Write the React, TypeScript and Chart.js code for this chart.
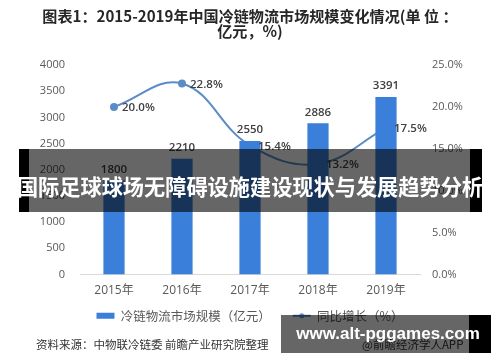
import React, { useEffect, useRef } from "react";
import { Chart, registerables } from "chart.js";

Chart.register(...registerables);

const titleLines = ["图表1：2015-2019年中国冷链物流市场规模变化情况(单 位 ：", "亿元，%)"];
const categories = ["2015年", "2016年", "2017年", "2018年", "2019年"];
const marketSize = [1800, 2210, 2550, 2886, 3391];
const growthRate = [20.0, 22.8, 15.4, 13.2, 17.5];
const seriesNames = ["冷链物流市场规模（亿元）", "同比增长（%）"];
const leftAxis = { min: 0, max: 4000, step: 500 };
const rightAxis = { min: 0, max: 25, step: 5 };
const sourceText = "资料来源：中物联冷链委 前瞻产业研究院整理";
const sourceRight = "@前瞻经济学人APP";
const bannerText = "国际足球球场无障碍设施建设现状与发展趋势分析";
const siteText = "www.alt-pggames.com";

const BAR_COLOR = "#3a7fd9";
const LINE_COLOR = "#5b8cc8";
const FONT = "'Open Sans', 'Noto Sans CJK SC', sans-serif";
const CJK = "'Noto Sans CJK SC', sans-serif";

const labelPlugin = {
  id: "valueLabels",
  afterDatasetsDraw(chart: any) {
    const ctx = chart.ctx;
    ctx.save();
    ctx.fillStyle = "#404040";
    ctx.font = `600 11.5px ${FONT}`;
    ctx.textBaseline = "middle";
    const barMeta = chart.getDatasetMeta(0);
    ctx.textAlign = "center";
    barMeta.data.forEach((el: any, i: number) => {
      ctx.fillText(String(marketSize[i]), el.x, el.y - 11);
    });
    const lineMeta = chart.getDatasetMeta(1);
    ctx.textAlign = "left";
    lineMeta.data.forEach((el: any, i: number) => {
      ctx.fillText(growthRate[i].toFixed(1) + "%", el.x + 8, el.y + 1);
    });
    ctx.restore();
  },
  afterDraw(chart: any) {
    const lg = chart.legend;
    if (!lg || !lg.legendHitBoxes || lg.legendHitBoxes.length < 2) return;
    const hb = lg.legendHitBoxes[1];
    const ctx = chart.ctx;
    ctx.save();
    ctx.fillStyle = LINE_COLOR;
    ctx.beginPath();
    ctx.arc(hb.left + 9, hb.top + hb.height / 2, 2.5, 0, Math.PI * 2);
    ctx.fill();
    ctx.restore();
  },
};

function ChartView() {
  const ref = useRef<HTMLCanvasElement | null>(null);
  useEffect(() => {
    document.body.style.margin = "0";
    if (!ref.current) return;
    const chart = new Chart(ref.current, {
      type: "bar",
      data: {
        labels: categories,
        datasets: [
          {
            type: "bar",
            label: seriesNames[0],
            data: marketSize,
            backgroundColor: BAR_COLOR,
            borderWidth: 0,
            barPercentage: 0.39,
            categoryPercentage: 0.8,
            yAxisID: "y",
            order: 0,
          },
          {
            type: "line",
            label: seriesNames[1],
            data: growthRate,
            borderColor: LINE_COLOR,
            backgroundColor: LINE_COLOR,
            pointBackgroundColor: LINE_COLOR,
            pointBorderColor: LINE_COLOR,
            pointRadius: 3,
            borderWidth: 2,
            tension: 0.4,
            yAxisID: "y1",
            order: 1,
          },
        ] as any,
      },
      options: {
        animation: false,
        responsive: true,
        maintainAspectRatio: false,
        layout: { padding: { top: 0, bottom: 30, left: 0, right: 0 } },
        plugins: {
          tooltip: { enabled: false },
          title: {
            display: true,
            text: titleLines,
            color: "#262626",
            font: { family: CJK, size: 15.1, weight: "bold", lineHeight: 1.03 },
            padding: { top: 8.2, bottom: 25.7 },
          },
          legend: {
            position: "bottom",
            labels: {
              usePointStyle: true,
              pointStyleWidth: 18,
              boxWidth: 18,
              boxHeight: 6,
              padding: 22,
              color: "#595959",
              font: { family: CJK, size: 12.5 },
              generateLabels: (chart: any) => {
                const items = (Chart.defaults.plugins.legend.labels as any).generateLabels(chart);
                items.forEach((it: any) => {
                  if (it.datasetIndex === 0) {
                    it.pointStyle = "rect";
                    it.lineWidth = 0;
                  } else {
                    it.pointStyle = "line";
                    it.lineWidth = 2;
                    it.strokeStyle = LINE_COLOR;
                  }
                });
                return items;
              },
            },
          },
        },
        scales: {
          x: {
            grid: { display: false, drawTicks: false },
            border: { display: true, color: "#d9d9d9", width: 1 },
            ticks: { padding: 9, color: "#595959", font: { family: FONT, size: 12 } },
            afterFit: (s: any) => {
              s.height = 13;
              s._computeLabelArea = () => undefined;
            },
          },
          y: {
            position: "left",
            min: leftAxis.min,
            max: leftAxis.max,
            ticks: {
              stepSize: leftAxis.step,
              padding: 15,
              color: "#595959",
              font: { family: FONT, size: 11 },
              callback: (v: any) => String(v),
            },
            grid: { display: false, drawTicks: false },
            border: { display: false },
            afterFit: (s: any) => {
              s.width = 80;
            },
          },
          y1: {
            position: "right",
            min: rightAxis.min,
            max: rightAxis.max,
            ticks: {
              stepSize: rightAxis.step,
              padding: 12,
              color: "#595959",
              font: { family: FONT, size: 11 },
              callback: (v: any) => Number(v).toFixed(1) + "%",
            },
            grid: { display: false, drawTicks: false },
            border: { display: false },
            afterFit: (s: any) => {
              s.width = 80;
            },
          },
        },
      } as any,
      plugins: [labelPlugin],
    });
    return () => chart.destroy();
  }, []);

  return <canvas ref={ref} />;
}

export default function App() {
  return (
    <div style={{ position: "absolute", left: 0, top: 0, width: 500, height: 362, background: "#fff", overflow: "hidden" }}>
      <div style={{ position: "absolute", left: 0, top: 0, width: 500, height: 362 }}>
        <ChartView />
      </div>
      <div
        style={{
          position: "absolute",
          left: 36,
          top: 335,
          fontFamily: CJK,
          fontSize: 11.5,
          lineHeight: "18px",
          color: "#333",
          whiteSpace: "nowrap",
        }}
      >
        {sourceText}
      </div>
      <div
        style={{
          position: "absolute",
          left: 362,
          top: 335,
          fontFamily: CJK,
          fontSize: 11.5,
          lineHeight: "18px",
          color: "#333",
          whiteSpace: "nowrap",
        }}
      >
        {sourceRight}
      </div>
      {/* banner overlay */}
      <div style={{ position: "absolute", left: 19, top: 149, width: 10, height: 63, background: "#000" }} />
      <div style={{ position: "absolute", left: 29, top: 149, width: 441, height: 63, background: "rgba(0,0,0,0.6)" }} />
      <div style={{ position: "absolute", left: 470, top: 149, width: 12, height: 63, background: "#000" }} />
      <div
        style={{
          position: "absolute",
          left: 0,
          top: 149,
          width: 500,
          height: 63,
          lineHeight: "63px",
          textAlign: "center",
          paddingTop: 1,
          boxSizing: "border-box",
          color: "#fff",
          fontFamily: CJK,
          fontWeight: 700,
          fontSize: 21.2,
          whiteSpace: "nowrap",
        }}
      >
        <span style={{ lineHeight: "normal", display: "inline-block", verticalAlign: "middle" }}>{bannerText}</span>
      </div>
      {/* site box */}
      <div style={{ position: "absolute", left: 281, top: 315, width: 188, height: 38, background: "rgba(0,0,0,0.6)" }} />
      <div style={{ position: "absolute", left: 469, top: 315, width: 22, height: 38, background: "#000" }} />
      <div
        style={{
          position: "absolute",
          left: 281,
          top: 315,
          width: 210,
          height: 38,
          display: "flex",
          alignItems: "center",
          justifyContent: "center",
          paddingLeft: 4,
          boxSizing: "border-box",
          color: "#fff",
          fontFamily: "'Liberation Sans', Arial, sans-serif",
          fontWeight: 700,
          fontSize: 17,
          whiteSpace: "nowrap",
        }}
      >
        {siteText}
      </div>
    </div>
  );
}
